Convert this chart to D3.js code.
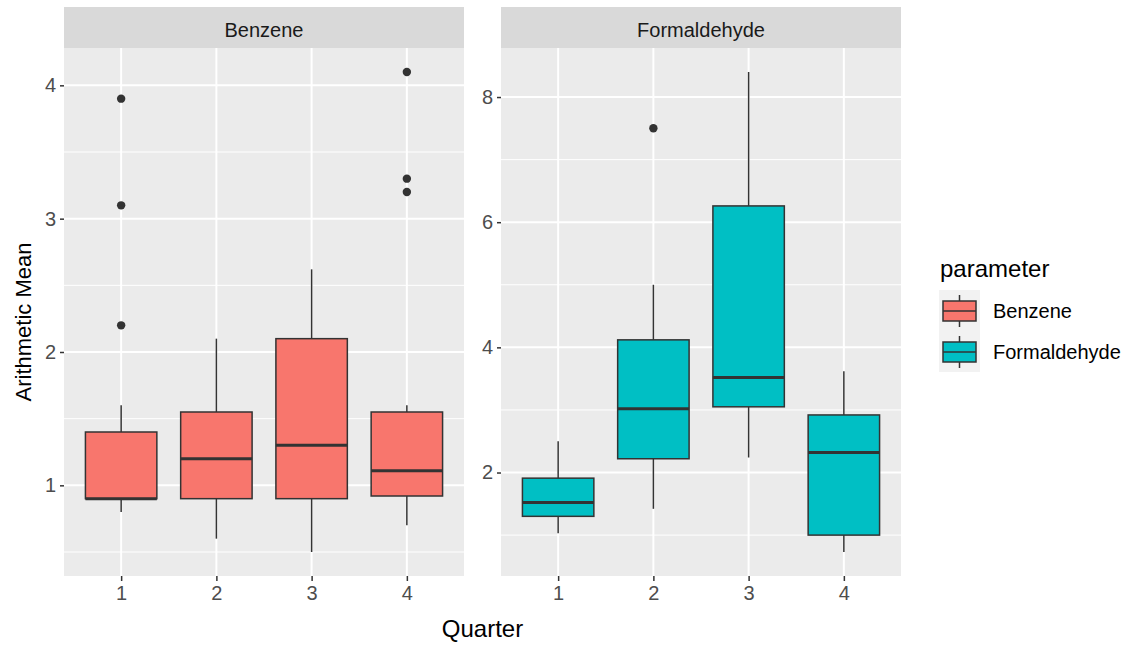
<!DOCTYPE html>
<html>
<head>
<meta charset="utf-8">
<script src="https://cdn.jsdelivr.net/npm/d3@7"></script>
<style>
  body { margin: 0; background: #fff; }
  text { font-family: Arial, "Liberation Sans", sans-serif; }
</style>
</head>
<body>
<svg id="chart" width="1138" height="648"></svg>
<script>
// quarters on the x axis
const quarters = [1, 2, 3, 4];

// Benzene box stats per quarter
const benzeneLow  = [0.8, 0.6, 0.5, 0.7];
const benzeneQ1   = [0.9, 0.9, 0.9, 0.92];
const benzeneMed  = [0.9, 1.2, 1.3, 1.11];
const benzeneQ3   = [1.4, 1.55, 2.1, 1.55];
const benzeneHigh = [1.6, 2.1, 2.62, 1.6];
const benzeneOut  = [[2.2, 3.1, 3.9], [], [], [3.2, 3.3, 4.1]];

// Formaldehyde box stats per quarter
const formLow  = [1.03, 1.42, 2.24, 0.73];
const formQ1   = [1.3, 2.22, 3.05, 1.0];
const formMed  = [1.52, 3.02, 3.52, 2.32];
const formQ3   = [1.91, 4.12, 6.26, 2.92];
const formHigh = [2.5, 5.0, 8.4, 3.62];
const formOut  = [[], [7.5], [], []];

// y ticks per facet
const benzeneTicks = [1, 2, 3, 4];
const benzeneMinor = [0.5, 1.5, 2.5, 3.5];
const formTicks = [2, 4, 6, 8];
const formMinor = [1, 3, 5, 7];

const params = ["Benzene", "Formaldehyde"];
const fills = ["#F8766D", "#00BFC4"];

const svg = d3.select("#chart");
const stripTop = 7, panelTop = 48, panelBottom = 576;
const smallSize = 20, titleSize = 24;

function buildRows(low, q1, med, q3, high, out) {
  return quarters.map((q, i) => ({
    q: q, low: low[i], q1: q1[i], med: med[i], q3: q3[i], high: high[i], out: out[i]
  }));
}

const facets = [
  { name: "Benzene", x0: 64, x1: 464, fill: fills[0], ticks: benzeneTicks, minor: benzeneMinor,
    rows: buildRows(benzeneLow, benzeneQ1, benzeneMed, benzeneQ3, benzeneHigh, benzeneOut) },
  { name: "Formaldehyde", x0: 501, x1: 901, fill: fills[1], ticks: formTicks, minor: formMinor,
    rows: buildRows(formLow, formQ1, formMed, formQ3, formHigh, formOut) }
];

facets.forEach(f => {
  // y domain from data with 5% expansion (ggplot style)
  const all = [];
  f.rows.forEach(r => { all.push(r.low, r.high); r.out.forEach(o => all.push(o)); });
  const ext = d3.extent(all);
  const pad = (ext[1] - ext[0]) * 0.05;
  const y = d3.scaleLinear().domain([ext[0] - pad, ext[1] + pad]).range([panelBottom, panelTop]);

  // discrete x with 0.6 expansion each side
  const x = d3.scaleLinear().domain([0.4, 4.6]).range([f.x0, f.x1]);
  const bw = x(1.75) - x(1);

  const g = svg.append("g");

  // strip
  g.append("rect").attr("x", f.x0).attr("y", stripTop)
    .attr("width", f.x1 - f.x0).attr("height", panelTop - stripTop).attr("fill", "#D9D9D9");
  g.append("text").attr("x", (f.x0 + f.x1) / 2).attr("y", 37)
    .attr("text-anchor", "middle").attr("font-size", smallSize).attr("fill", "#1A1A1A").text(f.name);

  // panel
  g.append("rect").attr("x", f.x0).attr("y", panelTop)
    .attr("width", f.x1 - f.x0).attr("height", panelBottom - panelTop).attr("fill", "#EBEBEB");

  g.selectAll(".minor").data(f.minor.filter(v => v > y.domain()[0] && v < y.domain()[1]))
    .enter().append("line")
    .attr("x1", f.x0).attr("x2", f.x1)
    .attr("y1", d => y(d)).attr("y2", d => y(d))
    .attr("stroke", "#fff").attr("stroke-width", 1);

  g.selectAll(".major").data(f.ticks).enter().append("line")
    .attr("x1", f.x0).attr("x2", f.x1)
    .attr("y1", d => y(d)).attr("y2", d => y(d))
    .attr("stroke", "#fff").attr("stroke-width", 2);

  g.selectAll(".vmajor").data(quarters).enter().append("line")
    .attr("x1", d => x(d)).attr("x2", d => x(d))
    .attr("y1", panelTop).attr("y2", panelBottom)
    .attr("stroke", "#fff").attr("stroke-width", 2);

  // axes
  const yAxis = g.append("g").attr("transform", `translate(${f.x0},0)`)
    .call(d3.axisLeft(y).tickValues(f.ticks).tickSize(4).tickPadding(4).tickFormat(d3.format("d")));
  const xAxis = g.append("g").attr("transform", `translate(0,${panelBottom})`)
    .call(d3.axisBottom(x).tickValues(quarters).tickSize(5).tickPadding(5).tickFormat(d3.format("d")));
  [yAxis, xAxis].forEach(a => {
    a.select(".domain").remove();
    a.selectAll(".tick line").attr("stroke", "#333333").attr("stroke-width", 1.5);
    a.selectAll(".tick text").attr("fill", "#4D4D4D").attr("font-size", smallSize)
      .attr("font-family", "Arial, 'Liberation Sans', sans-serif");
  });

  // boxplots
  const box = g.selectAll(".box").data(f.rows).enter().append("g");
  box.append("line")
    .attr("x1", d => x(d.q)).attr("x2", d => x(d.q))
    .attr("y1", d => y(d.high)).attr("y2", d => y(d.q3))
    .attr("stroke", "#333333").attr("stroke-width", 1.5);
  box.append("line")
    .attr("x1", d => x(d.q)).attr("x2", d => x(d.q))
    .attr("y1", d => y(d.q1)).attr("y2", d => y(d.low))
    .attr("stroke", "#333333").attr("stroke-width", 1.5);
  box.append("rect")
    .attr("x", d => x(d.q) - bw / 2).attr("width", bw)
    .attr("y", d => y(d.q3)).attr("height", d => y(d.q1) - y(d.q3))
    .attr("fill", f.fill).attr("stroke", "#333333").attr("stroke-width", 1.5);
  box.append("line")
    .attr("x1", d => x(d.q) - bw / 2).attr("x2", d => x(d.q) + bw / 2)
    .attr("y1", d => y(d.med)).attr("y2", d => y(d.med))
    .attr("stroke", "#333333").attr("stroke-width", 3);
  box.selectAll("circle").data(d => d.out.map(v => ({ q: d.q, v: v }))).enter().append("circle")
    .attr("cx", d => x(d.q)).attr("cy", d => y(d.v)).attr("r", 4.2)
    .attr("fill", "#333333");
});

// axis titles
svg.append("text").attr("x", 482.5).attr("y", 637).attr("text-anchor", "middle")
  .attr("font-size", titleSize).attr("fill", "#000").text("Quarter");
svg.append("text").attr("transform", "translate(31,322) rotate(-90)").attr("text-anchor", "middle")
  .attr("font-size", 22).attr("fill", "#000").text("Arithmetic Mean");

// legend
const legend = svg.append("g");
legend.append("text").attr("x", 940).attr("y", 277).attr("font-size", titleSize).attr("fill", "#000").text("parameter");
const keyH = 41;
params.forEach((p, i) => {
  const ky = 290 + i * keyH;
  const k = legend.append("g");
  k.append("rect").attr("x", 939).attr("y", ky).attr("width", 41).attr("height", keyH).attr("fill", "#F2F2F2");
  k.append("line").attr("x1", 959.5).attr("x2", 959.5).attr("y1", ky + 5).attr("y2", ky + 37)
    .attr("stroke", "#333333").attr("stroke-width", 1.5);
  k.append("rect").attr("x", 943).attr("y", ky + 11).attr("width", 33).attr("height", 20)
    .attr("fill", fills[i]).attr("stroke", "#333333").attr("stroke-width", 1.5);
  k.append("line").attr("x1", 943).attr("x2", 976).attr("y1", ky + 21).attr("y2", ky + 21)
    .attr("stroke", "#333333").attr("stroke-width", 1.5);
  k.append("text").attr("x", 993).attr("y", ky + 28).attr("font-size", smallSize).attr("fill", "#000").text(p);
});
</script>
</body>
</html>
